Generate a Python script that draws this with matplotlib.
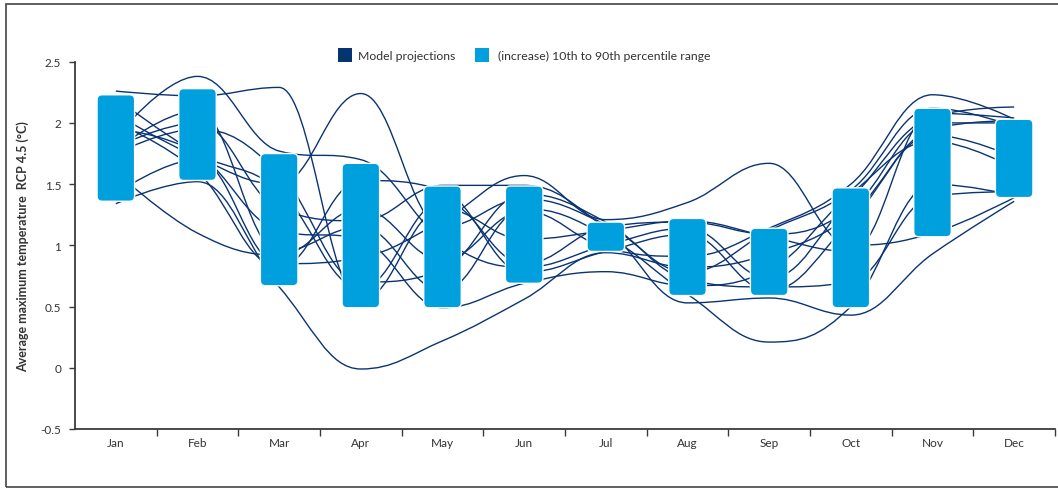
import matplotlib
matplotlib.use("Agg")
import matplotlib.pyplot as plt
from matplotlib.path import Path
from matplotlib.patches import PathPatch, FancyBboxPatch, Rectangle
from matplotlib.ticker import FixedLocator, FuncFormatter, NullFormatter

plt.rcParams['font.family'] = ['Lato', 'DejaVu Sans']

months = ["Jan", "Feb", "Mar", "Apr", "May", "Jun",
          "Jul", "Aug", "Sep", "Oct", "Nov", "Dec"]

# 10th to 90th percentile range of the projected increase
range_low = [1.36, 1.53, 0.67, 0.49, 0.49, 0.69, 0.95, 0.59, 0.59, 0.49, 1.07, 1.39]
range_high = [2.23, 2.28, 1.75, 1.67, 1.485, 1.485, 1.19, 1.22, 1.14, 1.47, 2.12, 2.03]

# Individual model projections (°C increase, Jan..Dec)
model_01 = [1.34, 1.52, 0.66, -0.01, 0.22, 0.56, 0.94, 0.82, 0.93, 1.25, 1.95, 2.02]
model_02 = [2.26, 2.22, 2.29, 0.55, 1.30, 1.05, 1.12, 1.20, 1.07, 0.95, 2.08, 2.04]
model_03 = [2.07, 1.72, 1.50, 2.24, 1.15, 1.38, 1.17, 0.78, 1.12, 1.45, 2.12, 1.97]
model_04 = [1.88, 2.38, 1.77, 1.70, 1.05, 0.82, 1.00, 1.14, 0.73, 1.38, 2.05, 2.13]
model_05 = [1.80, 2.00, 1.30, 1.20, 1.49, 1.49, 1.14, 0.53, 0.57, 0.43, 0.93, 1.36]
model_06 = [1.78, 2.10, 0.95, 1.15, 0.63, 1.30, 1.08, 0.60, 0.21, 0.50, 1.50, 1.41]
model_07 = [1.42, 1.70, 0.85, 0.90, 1.20, 1.57, 1.21, 1.35, 1.67, 1.00, 1.10, 1.39]
model_08 = [1.60, 1.10, 0.92, 1.30, 0.88, 1.28, 0.98, 0.91, 1.14, 1.50, 2.23, 2.03]
model_09 = [1.95, 1.75, 1.12, 1.05, 0.49, 0.69, 0.785, 0.67, 0.80, 1.42, 1.85, 1.63]
model_10 = [2.00, 1.60, 0.82, 1.53, 1.45, 0.78, 0.95, 1.09, 0.63, 1.20, 1.90, 1.72]
model_11 = [1.75, 1.95, 1.59, 0.70, 0.80, 1.42, 1.19, 0.72, 0.66, 0.70, 1.40, 1.44]
model_12 = [2.20, 1.75, 1.45, 0.65, 1.36, 0.85, 1.15, 1.19, 1.09, 1.30, 2.00, 2.00]
models = [model_01, model_02, model_03, model_04, model_05, model_06,
          model_07, model_08, model_09, model_10, model_11, model_12]

y_ticks = [-0.5, 0, 0.5, 1, 1.5, 2, 2.5]

NAVY = "#0b3373"
BLUE = "#009fde"
AXIS = "#3a3a3a"
TEXT = "#333333"


def spline_path(xs, ys, smoothing=1.5):
    """Smooth curve through every point, without overshooting local extremes."""
    n = len(xs)
    left = [None] * n
    right = [None] * n
    d = smoothing + 1
    for i in range(1, n - 1):
        px, py = xs[i], ys[i]
        lx, ly = xs[i - 1], ys[i - 1]
        nx, ny = xs[i + 1], ys[i + 1]
        lcx, lcy = (smoothing * px + lx) / d, (smoothing * py + ly) / d
        rcx, rcy = (smoothing * px + nx) / d, (smoothing * py + ny) / d
        corr = (rcy - lcy) * (rcx - px) / (rcx - lcx) + py - rcy
        lcy += corr
        rcy += corr
        if lcy > ly and lcy > py:
            lcy = max(ly, py)
            rcy = 2 * py - lcy
        elif lcy < ly and lcy < py:
            lcy = min(ly, py)
            rcy = 2 * py - lcy
        if rcy > ny and rcy > py:
            rcy = max(ny, py)
            lcy = 2 * py - rcy
        elif rcy < ny and rcy < py:
            rcy = min(ny, py)
            lcy = 2 * py - rcy
        left[i] = (lcx, lcy)
        right[i] = (rcx, rcy)
    verts = [(xs[0], ys[0])]
    codes = [Path.MOVETO]
    for i in range(1, n):
        c1 = right[i - 1] if right[i - 1] is not None else (xs[i - 1], ys[i - 1])
        c2 = left[i] if left[i] is not None else (xs[i], ys[i])
        verts += [c1, c2, (xs[i], ys[i])]
        codes += [Path.CURVE4] * 3
    return Path(verts, codes)


W, H = 1058, 489
fig = plt.figure(figsize=(W / 100, H / 100), dpi=100)
ax_l, ax_r, ax_t, ax_b = 75, 1055, 62.7, 430
ax = fig.add_axes([ax_l / W, 1 - ax_b / H, (ax_r - ax_l) / W, (ax_b - ax_t) / H])

x_min, x_max = -0.5, len(months) - 0.5
y_min, y_max = -0.5, 2.5
ax.set_xlim(x_min, x_max)
ax.set_ylim(y_min, y_max)

xs = list(range(len(months)))
for vals in models:
    ax.add_patch(PathPatch(spline_path(xs, vals), facecolor="none",
                           edgecolor=NAVY, lw=1.0, zorder=2))

# rounded percentile boxes
px_per_x = (ax_r - ax_l) / (x_max - x_min)
px_per_y = (ax_b - ax_t) / (y_max - y_min)
radius_px = 5.0
rx = radius_px / px_per_x
ry = radius_px / px_per_y
box_w = 0.46
for i, (lo, hi) in enumerate(zip(range_low, range_high)):
    ax.add_patch(FancyBboxPatch((i - box_w / 2, lo), box_w, hi - lo,
                                boxstyle=f"round,pad=0,rounding_size={rx}",
                                mutation_aspect=ry / rx,
                                facecolor=BLUE, edgecolor="white", lw=1.0,
                                zorder=3))

for side in ("top", "right"):
    ax.spines[side].set_visible(False)
for side in ("left", "bottom"):
    ax.spines[side].set_color(AXIS)
    ax.spines[side].set_linewidth(1.3)

ax.yaxis.set_major_locator(FixedLocator(y_ticks))
ax.yaxis.set_major_formatter(FuncFormatter(lambda v, p: f"{v:g}"))
ax.tick_params(axis="y", direction="out", length=4, width=1.0, color=AXIS,
               labelsize=8.5, labelcolor=TEXT, pad=6)

ax.xaxis.set_major_locator(FixedLocator([i + 0.5 for i in xs]))
ax.xaxis.set_major_formatter(NullFormatter())
ax.xaxis.set_minor_locator(FixedLocator(xs))
ax.set_xticklabels(months, minor=True)
ax.tick_params(axis="x", which="major", direction="out", length=5, width=1.0,
               color=AXIS)
ax.tick_params(axis="x", which="minor", length=0, labelsize=8.5,
               labelcolor=TEXT, pad=6)

ax.set_ylabel("Average maximum temperature  RCP 4.5 (°C)", fontsize=9,
              fontweight="bold", color=TEXT, labelpad=8)

# legend row
def fig_rect(x0, y0, x1, y1, color):
    fig.patches.append(Rectangle((x0 / W, 1 - y1 / H), (x1 - x0) / W,
                                 (y1 - y0) / H, transform=fig.transFigure,
                                 facecolor=color, edgecolor="none"))

fig_rect(338, 49, 352, 62.5, "#053570")
fig.text(358 / W, 1 - 56 / H, "Model projections", fontsize=8.8, color=TEXT,
         va="center", ha="left")
fig_rect(475, 49, 489, 62.5, BLUE)
fig.text(497.5 / W, 1 - 56 / H, "(increase) 10th to 90th percentile range",
         fontsize=8.8, color=TEXT, va="center", ha="left")

# outer frame (open on the right)
fig.patches.append(Rectangle((6 / W, 1 - 487.5 / H), 1.2, (487.5 - 4.5) / H,
                             transform=fig.transFigure, facecolor="none",
                             edgecolor="#444444", lw=1.2, zorder=0))

fig.savefig("out.png", dpi=100)
